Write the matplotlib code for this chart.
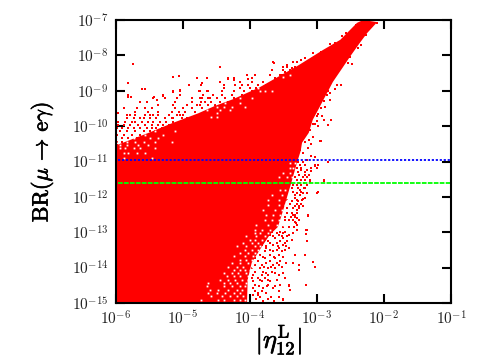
import matplotlib
matplotlib.use('Agg')
import matplotlib.pyplot as plt
import matplotlib.patheffects as pe

plt.rcParams['font.family'] = 'serif'
plt.rcParams['mathtext.fontset'] = 'cm'

#tick positions and labels
x_ticks = [1e-6, 1e-5, 1e-4, 1e-3, 1e-2, 1e-1]
x_labels = ['$10^{-6}$', '$10^{-5}$', '$10^{-4}$', '$10^{-3}$', '$10^{-2}$', '$10^{-1}$']
y_ticks = [1e-15, 1e-14, 1e-13, 1e-12, 1e-11, 1e-10, 1e-9, 1e-8, 1e-7]
y_labels = ['$10^{-15}$', '$10^{-14}$', '$10^{-13}$', '$10^{-12}$', '$10^{-11}$',
            '$10^{-10}$', '$10^{-9}$', '$10^{-8}$', '$10^{-7}$']

#experimental limits
limit_blue = 1.1e-11
limit_green = 2.4e-12

#outline of the solid red area, log10 values
solid_logx = [-6.0, -5.52, -5.16, -4.77, -4.52, -4.25, -3.85, -3.59, -3.29, -2.91, -2.65, -2.40, -2.31,
              -2.10, -2.25, -2.36, -2.51, -2.62, -2.76, -2.88, -2.98, -3.06, -3.12, -3.22,
              -3.24, -3.29, -3.38, -3.50, -3.58, -3.70, -3.82, -3.97, -4.03, -4.04, -6.0]
solid_logy = [-10.55, -10.20, -9.92, -9.64, -9.43, -9.24, -8.90, -8.62, -8.30, -7.85, -7.56, -7.08, -7.0,
              -7.06, -7.37, -7.65, -8.05, -8.36, -8.75, -9.18, -9.54, -9.82, -10.19, -10.47,
              -10.70, -11.00, -11.60, -12.37, -12.85, -13.07, -13.41, -13.86, -14.34, -15.0, -15.0]

#single red points far from the solid area (log10 x, log10 y)
upper_points = [(-5.74, -8.24), (-5.82, -8.77), (-5.60, -8.94), (-5.56, -8.95), (-5.81, -9.17),
    (-5.77, -9.19), (-5.87, -9.49), (-5.97, -9.64), (-5.14, -8.60), (-5.05, -8.59), (-4.79, -8.64),
    (-4.64, -8.63), (-4.71, -8.79), (-4.91, -8.84), (-4.44, -8.33), (-4.44, -8.74), (-4.32, -8.67),
    (-4.23, -8.70), (-4.15, -8.74), (-4.02, -8.68), (-3.64, -8.21), (-3.45, -8.29), (-5.15, -9.03),
    (-5.04, -8.98), (-5.42, -9.19), (-5.38, -9.26), (-5.29, -9.14)]

ridge_points = [(-2.95, -10.41), (-2.79, -9.84), (-2.84, -9.97), (-2.89, -9.84), (-2.92, -9.71),
    (-2.98, -10.01), (-3.03, -9.94), (-2.98, -9.66), (-2.88, -9.47), (-2.93, -9.50), (-2.80, -9.26),
    (-2.85, -9.12), (-2.80, -9.07), (-2.73, -8.96), (-2.64, -8.84), (-2.70, -8.84), (-2.47, -8.24),
    (-2.53, -8.22), (-2.50, -8.04), (-2.34, -7.71), (-2.38, -7.78), (-2.26, -7.42), (-2.11, -7.08),
    (-3.05, -7.94), (-3.18, -8.08), (-3.23, -8.13), (-3.30, -8.18), (-3.36, -8.18), (-2.93, -7.90),
    (-2.80, -7.68), (-3.45, -8.27), (-3.51, -8.34), (-3.47, -8.46), (-3.37, -8.37), (-3.32, -8.46),
    (-2.63, -7.45), (-2.56, -7.36), (-2.42, -7.13), (-2.73, -7.64), (-3.52, -8.55), (-2.90, -9.30),
    (-2.94, -9.20), (-2.84, -9.00), (-3.00, -9.70), (-3.05, -9.95), (-3.00, -9.85), (-3.10, -10.10),
    (-3.05, -10.30), (-3.12, -10.40)]

lower_points = [(-2.98, -11.85), (-2.99, -11.90), (-3.13, -12.54), (-3.16, -12.95), (-3.16, -13.05),
    (-3.15, -13.26), (-3.18, -13.64), (-3.06, -13.83), (-3.02, -13.97), (-3.27, -14.06), (-3.35, -13.87),
    (-3.27, -13.92), (-3.16, -14.50), (-3.41, -14.51), (-3.47, -14.30), (-3.40, -14.63), (-3.50, -14.91),
    (-3.32, -13.64), (-3.37, -13.21), (-3.31, -12.74), (-3.27, -12.65), (-3.35, -12.51), (-3.20, -12.07),
    (-3.26, -12.25), (-3.19, -11.76), (-3.25, -11.80), (-3.10, -11.57), (-3.17, -11.52), (-2.90, -11.54),
    (-2.83, -11.00), (-2.99, -11.19), (-3.08, -11.26), (-3.03, -11.12), (-3.09, -10.84), (-3.03, -10.88),
    (-3.15, -10.95), (-3.20, -10.77), (-3.25, -10.67), (-3.13, -10.63), (-3.08, -10.50), (-2.94, -10.42),
    (-3.18, -10.44)]

#fringe of red points above the solid area, one row per log10 y
upper_rows = [
    (-9.02, [-5.14, -5.04, -4.76, -4.64]), (-9.12, [-5.81, -5.29, -5.04]),
    (-9.21, [-5.44, -5.26, -5.09, -4.86, -4.71, -4.62]), (-9.31, [-5.63, -5.53, -5.11, -4.86, -4.67]),
    (-9.40, [-5.36, -5.14, -4.94, -4.79]), (-9.50, [-5.88, -5.68, -5.56, -5.46, -5.11, -4.99, -4.86, -4.71]),
    (-9.59, [-5.71, -5.51, -5.36, -5.16, -5.06, -4.96, -4.81]),
    (-9.68, [-5.83, -5.78, -5.71, -5.56, -5.49, -5.44, -5.36, -5.21, -5.09, -5.04, -4.99]),
    (-9.78, [-5.83, -5.73, -5.63, -5.58, -5.49, -5.39, -5.26, -5.16, -5.14, -5.01, -4.94, -4.86]),
    (-9.87, [-5.96, -5.86, -5.76, -5.71, -5.61, -5.51, -5.44, -5.34, -5.24, -5.14, -5.04, -4.96]),
    (-9.97, [-5.96, -5.88, -5.78, -5.66, -5.56, -5.46, -5.36, -5.29, -5.21, -5.11]),
    (-10.06, [-5.98, -5.91, -5.81, -5.73, -5.63, -5.53, -5.46, -5.39, -5.31, -5.24, -5.16]),
    (-10.15, [-5.93, -5.83, -5.71, -5.58, -5.49, -5.41, -5.34, -5.26]),
    (-10.25, [-5.98, -5.88, -5.76, -5.63, -5.51, -5.44, -5.36]),
    (-10.34, [-5.91, -5.81, -5.68, -5.56]), (-10.44, [-5.98, -5.91, -5.78, -5.66]),
    (-10.53, [-5.98, -5.88, -5.76]),
    (-8.18, [-3.65]), (-8.32, [-4.44, -3.45, -3.32]), (-8.41, [-3.67, -3.50, -3.40]),
    (-8.55, [-4.04, -3.92, -3.70, -3.55, -3.44]), (-8.65, [-4.64, -4.32, -4.24, -3.97, -3.62, -3.50]),
    (-8.74, [-4.44, -4.14, -3.97, -3.80, -3.67]), (-8.84, [-4.72, -4.39, -4.22, -4.12, -4.02, -3.87, -3.75]),
    (-8.93, [-4.39, -4.14, -3.99, -3.90, -3.80]), (-9.02, [-4.74, -4.62, -4.42, -4.24, -4.09, -3.97]),
    (-9.12, [-4.69, -4.54, -4.42, -4.27, -4.12, -4.02]), (-9.21, [-4.74, -4.59, -4.49, -4.37, -4.24]),
    (-9.31, [-4.72, -4.57, -4.44, -4.32]), (-9.40, [-4.74, -4.62, -4.52])]

#fringe of red points to the right of the solid area, one row per log10 y
lower_rows = [
    (-11.00, [-3.28, -3.20, -2.83]), (-11.10, [-3.25, -3.18, -3.03, -2.98]), (-11.19, [-3.30, -3.23, -3.08]),
    (-11.29, [-3.28, -3.18]), (-11.43, [-3.33, -3.20, -3.15]), (-11.52, [-3.30, -3.23, -3.10, -2.90]),
    (-11.66, [-3.35, -3.30, -3.23, -3.15]), (-11.76, [-3.37, -3.28, -3.18]), (-11.85, [-3.35, -3.23, -2.98]),
    (-11.94, [-3.33, -3.25]), (-12.04, [-3.33, -3.18]), (-12.13, [-3.37, -3.28]), (-12.27, [-3.33, -3.20]),
    (-12.37, [-3.30]), (-12.51, [-3.33, -3.13]), (-12.60, [-3.30]), (-12.70, [-3.33]), (-12.79, [-3.30]),
    (-12.93, [-3.30, -3.15]),
    (-12.98, [-3.92, -3.77, -3.67, -3.55, -3.47]), (-13.07, [-3.82, -3.70, -3.57, -3.42]),
    (-13.17, [-3.92, -3.77, -3.62, -3.50]), (-13.26, [-3.87, -3.72, -3.55, -3.45]),
    (-13.35, [-3.82, -3.65, -3.50]), (-13.45, [-3.90, -3.75, -3.57, -3.42]),
    (-13.54, [-3.95, -3.77, -3.65, -3.52]), (-13.64, [-3.85, -3.70, -3.57]),
    (-13.73, [-3.92, -3.77, -3.62]), (-13.82, [-3.87, -3.70, -3.55]),
    (-13.92, [-3.92, -3.82, -3.65, -3.57]), (-14.01, [-3.97, -3.85, -3.72, -3.62]),
    (-14.11, [-3.92, -3.80, -3.67]), (-14.20, [-3.95, -3.82, -3.72, -3.57]),
    (-14.30, [-3.97, -3.87, -3.77]), (-14.39, [-3.95, -3.82, -3.70]),
    (-14.48, [-3.92, -3.72, -3.55, -3.42]), (-14.58, [-3.95, -3.80, -3.65]),
    (-14.67, [-3.92, -3.82, -3.57]), (-14.77, [-3.95, -3.87]), (-14.88, [-3.90, -3.72, -3.50])]

#more of the same band, rows in between the ones above
lower_rows_2 = [
    (-11.24, [-3.24, -3.14]), (-11.38, [-3.26, -3.18, -3.12]), (-11.60, [-3.26, -3.19]),
    (-11.90, [-3.30, -3.21, -3.15]), (-12.10, [-3.44, -3.30, -3.22]), (-12.20, [-3.40, -3.30, -3.24]),
    (-12.32, [-3.44, -3.36, -3.27]), (-12.45, [-3.44, -3.37, -3.29]), (-12.56, [-3.48, -3.38, -3.32]),
    (-12.66, [-3.47, -3.41, -3.36]), (-12.84, [-3.50, -3.42, -3.34]), (-13.02, [-3.60, -3.50, -3.36]),
    (-13.12, [-3.66, -3.52, -3.44]), (-13.30, [-3.70, -3.60, -3.48]), (-13.40, [-3.75, -3.58, -3.46]),
    (-13.50, [-3.70, -3.60, -3.47]), (-13.69, [-3.80, -3.64, -3.50]), (-13.87, [-3.75, -3.60, -3.46]),
    (-13.97, [-3.78, -3.68, -3.52]), (-14.16, [-3.76, -3.62, -3.50]), (-14.34, [-3.84, -3.72, -3.60]),
    (-14.53, [-3.86, -3.74, -3.62]), (-14.72, [-3.88, -3.76]), (-14.82, [-3.84, -3.68, -3.56]),
    (-14.94, [-3.80, -3.64])]

#small white gaps inside the solid area, one row per log10 y
gap_rows = [
    (-14.91, [-4.72, -4.47, -4.39, -4.24, -4.14, -4.07]), (-14.81, [-4.57, -4.42, -4.29, -4.19, -4.10]),
    (-14.72, [-4.62, -4.49, -4.37, -4.24, -4.14]), (-14.63, [-4.59, -4.47, -4.32, -4.19, -4.12]),
    (-14.53, [-4.64, -4.39, -4.27, -4.14, -4.07]), (-14.44, [-4.62, -4.39, -4.29, -4.19, -4.05]),
    (-14.34, [-4.44, -4.32, -4.22, -4.12, -4.02]), (-14.25, [-4.34, -4.24, -4.14, -4.02]),
    (-14.15, [-4.39, -4.27, -4.17, -4.05]), (-14.06, [-4.24, -4.14, -4.07, -4.00]),
    (-13.97, [-4.32, -4.19, -4.10, -3.97]), (-13.87, [-4.27, -4.14, -4.02, -3.95]),
    (-13.78, [-4.14, -4.05, -3.97]), (-13.68, [-4.24, -4.07, -3.95, -3.87]),
    (-13.59, [-4.14, -4.02, -3.92]), (-13.49, [-4.07, -3.97, -3.87]),
    (-13.40, [-4.19, -4.05, -3.92, -3.85]), (-13.31, [-4.10, -3.97, -3.87]),
    (-13.21, [-4.00, -3.92, -3.82]), (-13.12, [-4.05, -3.90, -3.77]), (-13.02, [-3.92, -3.85, -3.72]),
    (-12.93, [-3.92, -3.82, -3.70, -3.60, -3.52]), (-12.79, [-3.90, -3.72, -3.60, -3.50]),
    (-12.65, [-3.77, -3.67, -3.57, -3.52]), (-12.51, [-3.75, -3.65, -3.55]),
    (-12.37, [-3.80, -3.62, -3.52, -3.42]), (-12.23, [-3.72, -3.57, -3.47, -3.37]),
    (-12.08, [-3.72, -3.57, -3.45]), (-11.94, [-3.67, -3.52, -3.42]), (-11.80, [-3.55, -3.47, -3.40]),
    (-11.43, [-3.57, -3.45, -3.37]), (-11.33, [-3.50, -3.40]), (-11.19, [-3.40, -3.35]), (-11.05, [-3.40, -3.33]),
    (-10.91, [-5.88, -5.46]), (-10.77, [-5.88, -5.81, -5.68, -5.56]),
    (-10.63, [-5.93, -5.86, -5.73, -5.63, -5.41]), (-10.53, [-5.93, -5.83, -5.66, -5.51]),
    (-10.44, [-5.96, -5.83, -5.71, -5.58, -5.41, -5.16]), (-10.34, [-5.86, -5.73, -5.49, -5.36]),
    (-10.25, [-5.71, -5.56, -5.29]), (-10.15, [-5.41, -5.11]),
    (-9.73, [-4.57, -4.49]), (-9.64, [-4.49]), (-9.54, [-4.74, -4.64, -4.44, -4.29]),
    (-9.45, [-4.67, -4.49, -4.39, -4.27, -4.07]), (-9.34, [-4.69, -4.54, -4.37, -4.14]),
    (-9.21, [-4.14, -3.97]), (-9.02, [-3.85, -3.77, -3.67]), (-8.93, [-3.95, -3.87]),
    (-8.62, [-3.50]), (-8.55, [-3.40])]


def expand(rows):
    xs = []
    ys = []
    for logy, logxs in rows:
        for logx in logxs:
            xs.append(10.0 ** logx)
            ys.append(10.0 ** logy)
    return xs, ys


fig = plt.figure(figsize=(5.03, 3.56), dpi=100)
ax = fig.add_axes([115.5 / 503, 1 - 303 / 356, 335.5 / 503, 283 / 356])
ax.set_xscale('log')
ax.set_yscale('log')
ax.set_xlim(1e-6, 1e-1)
ax.set_ylim(1e-15, 1e-7)
ax.set_axisbelow(True)

red = '#ff0000'
ax.fill([10.0 ** v for v in solid_logx], [10.0 ** v for v in solid_logy],
        color=red, lw=0, zorder=2)
for pts in (upper_points, ridge_points, lower_points):
    ax.plot([10.0 ** p[0] for p in pts], [10.0 ** p[1] for p in pts], ls='none',
            marker='s', ms=1.5, mew=0, color=red, zorder=2.5)
for rows in (upper_rows, lower_rows, lower_rows_2):
    xs, ys = expand(rows)
    ax.plot(xs, ys, ls='none', marker='s', ms=2.1, mew=0, color=red, zorder=2.5)
xs, ys = expand(gap_rows)
ax.plot(xs, ys, ls='none', marker='s', ms=1.3, mew=0, color='white', zorder=2.6)

ax.plot([1.1e-6, 1e-1], [limit_blue, limit_blue], color='#0000ff', lw=1.3,
        ls=(0, (1.2, 1.0)), zorder=3)
ax.plot([1.1e-6, 1e-1], [limit_green, limit_green], color='#00ff00', lw=1.3,
        ls=(0, (2.6, 0.7)), zorder=3)

ax.set_xticks(x_ticks)
ax.set_xticklabels(x_labels)
ax.set_yticks(y_ticks)
ax.set_yticklabels(y_labels)
ax.minorticks_off()
ax.tick_params(which='major', direction='in', top=True, right=True, length=6.5, width=1.5,
               labelsize=11, pad=5, color='black', labelcolor='#222222')
for s in ax.spines.values():
    s.set_linewidth(1.5)
    s.set_zorder(5)

stroke = [pe.withStroke(linewidth=0.5, foreground='black')]
fig.text(279 / 503, 1 - 340 / 356, r'$|\eta^{\mathrm{L}}_{12}|$', fontsize=19,
         ha='center', va='center', path_effects=stroke)
fig.text(42 / 503, 1 - 162 / 356, r'$\mathrm{BR}(\mu\,\rightarrow\,\mathrm{e}\gamma)$',
         fontsize=16, rotation=90, ha='center', va='center', path_effects=stroke)

fig.savefig('out.png', dpi=100)
